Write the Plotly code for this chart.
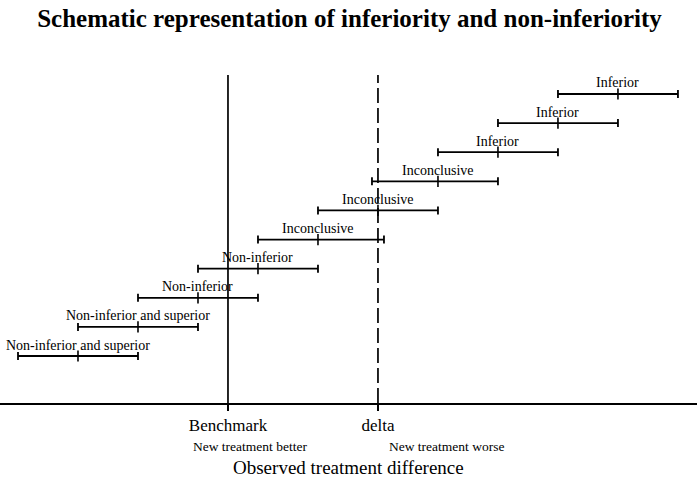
import plotly.graph_objects as go

# Data (x in units where Benchmark = 0 and delta = 1)
rows = [1, 2, 3, 4, 5, 6, 7, 8, 9, 10]
centers = [-1.0, -0.6, -0.2, 0.2, 0.6, 1.0, 1.4, 1.8, 2.2, 2.6]
lower = [-1.4, -1.0, -0.6, -0.2, 0.2, 0.6, 0.96, 1.4, 1.8, 2.2]
upper = [-0.6, -0.2, 0.2, 0.6, 1.04, 1.4, 1.8, 2.2, 2.6, 3.0]
labels = ["Non-inferior and superior", "Non-inferior and superior",
          "Non-inferior", "Non-inferior",
          "Inconclusive", "Inconclusive", "Inconclusive",
          "Inferior", "Inferior", "Inferior"]
benchmark = 0.0
delta = 1.0
tick_vals = [benchmark, delta]
tick_text = ["Benchmark", "delta"]
sub_labels = ["New treatment better", "New treatment worse"]
sub_label_x = [0.147, 1.46]

FONT = "Liberation Serif"

fig = go.Figure()

fig.add_trace(go.Scatter(
    x=centers, y=rows, mode="markers",
    marker=dict(symbol="line-ns", size=8, line=dict(color="black", width=1.6)),
    error_x=dict(type="data", symmetric=False,
                 array=[u - c for u, c in zip(upper, centers)],
                 arrayminus=[c - l for c, l in zip(centers, lower)],
                 color="black", thickness=1.8, width=4),
    showlegend=False, hoverinfo="skip"))

for r, c, t in zip(rows, centers, labels):
    fig.add_annotation(x=c, y=r, text=t, showarrow=False, yanchor="bottom",
                       yshift=1.5, font=dict(family=FONT, size=14, color="black"))

# Benchmark solid and delta dashed lines
fig.add_shape(type="line", x0=benchmark, x1=benchmark, y0=-0.614, y1=10.65,
              xref="x", yref="y", line=dict(color="black", width=1.7))
fig.add_shape(type="line", x0=delta, x1=delta, y0=-0.614, y1=10.65,
              xref="x", yref="y", line=dict(color="black", width=1.7, dash="15px,5px"))

for sx, st in zip(sub_label_x, sub_labels):
    fig.add_annotation(x=sx, y=-0.614, xref="x", yref="y", text=st, showarrow=False,
                       yanchor="middle", yshift=-43, font=dict(family=FONT, size=13.5, color="black"))

fig.add_annotation(x=0.5, y=-0.614, xref="paper", yref="y",
                   text="Observed treatment difference", showarrow=False,
                   yanchor="middle", yshift=-64,
                   font=dict(family=FONT, size=19, color="black"))

fig.update_layout(
    width=699, height=479,
    margin=dict(l=0, r=2, t=70, b=76),
    paper_bgcolor="white", plot_bgcolor="white",
    title=dict(text="<b>Schematic representation of inferiority and non-inferiority</b>",
               x=0.5, xanchor="center", y=0.962, yanchor="middle",
               font=dict(family=FONT, size=25, color="black")),
    xaxis=dict(range=[-1.52, 3.127], showgrid=False, zeroline=False,
               showline=True, linecolor="black", linewidth=1.7,
               tickmode="array", tickvals=tick_vals, ticktext=tick_text,
               ticks="outside", ticklen=6, tickwidth=1.5, tickcolor="black",
               tickfont=dict(family=FONT, size=17, color="black")),
    yaxis=dict(range=[-0.614, 10.824], visible=False, showgrid=False, zeroline=False),
)

fig.write_html("out.html", config={"displayModeBar": False},
               post_script="document.body.style.margin='0';")
